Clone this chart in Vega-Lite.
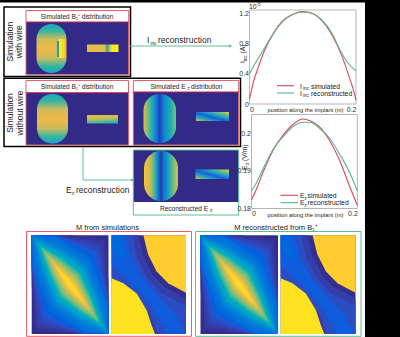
{"$schema":"https://vega.github.io/schema/vega-lite/v6.json","width":400,"height":337,"padding":0,"autosize":"none","background":"#000","config":{"view":{"stroke":null},"text":{"font":"Liberation Sans","fill":"#222","baseline":"alphabetic"},"axis":{"labelFont":"Liberation Sans"}},
"datasets":{
"M":[
{"t":0,"o":0,"u":0,"v":0},{"t":0,"o":1,"u":1,"v":0},{"t":0,"o":2,"u":1,"v":1},{"t":0,"o":3,"u":0,"v":1},
{"t":0.02,"o":0,"u":0,"v":0},{"t":0.02,"o":1,"u":0.5,"v":0},{"t":0.02,"o":2,"u":0.97,"v":0.03},{"t":0.02,"o":3,"u":1,"v":0.5},{"t":0.02,"o":4,"u":1,"v":1},{"t":0.02,"o":5,"u":0.5,"v":1},{"t":0.02,"o":6,"u":0.03,"v":0.97},{"t":0.02,"o":7,"u":0,"v":0.5},
{"t":0.04,"o":0,"u":0,"v":0},{"t":0.04,"o":1,"u":0.364,"v":0},{"t":0.04,"o":2,"u":0.94,"v":0.06},{"t":0.04,"o":3,"u":1,"v":0.636},{"t":0.04,"o":4,"u":1,"v":1},{"t":0.04,"o":5,"u":0.636,"v":1},{"t":0.04,"o":6,"u":0.06,"v":0.94},{"t":0.04,"o":7,"u":0,"v":0.364},
{"t":0.065,"o":0,"u":0,"v":0},{"t":0.065,"o":1,"u":0.343,"v":0},{"t":0.065,"o":2,"u":0.905,"v":0.095},{"t":0.065,"o":3,"u":1,"v":0.657},{"t":0.065,"o":4,"u":1,"v":1},{"t":0.065,"o":5,"u":0.657,"v":1},{"t":0.065,"o":6,"u":0.095,"v":0.905},{"t":0.065,"o":7,"u":0,"v":0.343},
{"t":0.09,"o":0,"u":0,"v":0},{"t":0.09,"o":1,"u":0.322,"v":0},{"t":0.09,"o":2,"u":0.87,"v":0.13},{"t":0.09,"o":3,"u":1,"v":0.678},{"t":0.09,"o":4,"u":1,"v":1},{"t":0.09,"o":5,"u":0.678,"v":1},{"t":0.09,"o":6,"u":0.13,"v":0.87},{"t":0.09,"o":7,"u":0,"v":0.322},
{"t":0.115,"o":0,"u":0,"v":0},{"t":0.115,"o":1,"u":0.301,"v":0},{"t":0.115,"o":2,"u":0.835,"v":0.165},{"t":0.115,"o":3,"u":1,"v":0.699},{"t":0.115,"o":4,"u":1,"v":1},{"t":0.115,"o":5,"u":0.699,"v":1},{"t":0.115,"o":6,"u":0.165,"v":0.835},{"t":0.115,"o":7,"u":0,"v":0.301},
{"t":0.14,"o":0,"u":0,"v":0},{"t":0.14,"o":1,"u":0.28,"v":0},{"t":0.14,"o":2,"u":0.8,"v":0.2},{"t":0.14,"o":3,"u":1,"v":0.72},{"t":0.14,"o":4,"u":1,"v":1},{"t":0.14,"o":5,"u":0.72,"v":1},{"t":0.14,"o":6,"u":0.2,"v":0.8},{"t":0.14,"o":7,"u":0,"v":0.28},
{"t":0.165,"o":0,"u":0,"v":0},{"t":0.165,"o":1,"u":0.303,"v":0.012},{"t":0.165,"o":2,"u":0.775,"v":0.225},{"t":0.165,"o":3,"u":0.988,"v":0.698},{"t":0.165,"o":4,"u":1,"v":1},{"t":0.165,"o":5,"u":0.698,"v":0.988},{"t":0.165,"o":6,"u":0.225,"v":0.775},{"t":0.165,"o":7,"u":0.012,"v":0.303},
{"t":0.19,"o":0,"u":0,"v":0},{"t":0.19,"o":1,"u":0.325,"v":0.025},{"t":0.19,"o":2,"u":0.75,"v":0.25},{"t":0.19,"o":3,"u":0.975,"v":0.675},{"t":0.19,"o":4,"u":1,"v":1},{"t":0.19,"o":5,"u":0.675,"v":0.975},{"t":0.19,"o":6,"u":0.25,"v":0.75},{"t":0.19,"o":7,"u":0.025,"v":0.325},
{"t":0.215,"o":0,"u":0,"v":0},{"t":0.215,"o":1,"u":0.346,"v":0.07},{"t":0.215,"o":2,"u":0.73,"v":0.27},{"t":0.215,"o":3,"u":0.93,"v":0.655},{"t":0.215,"o":4,"u":1,"v":1},{"t":0.215,"o":5,"u":0.655,"v":0.93},{"t":0.215,"o":6,"u":0.27,"v":0.73},{"t":0.215,"o":7,"u":0.07,"v":0.346},
{"t":0.24,"o":0,"u":0,"v":0},{"t":0.24,"o":1,"u":0.366,"v":0.114},{"t":0.24,"o":2,"u":0.71,"v":0.29},{"t":0.24,"o":3,"u":0.886,"v":0.634},{"t":0.24,"o":4,"u":1,"v":1},{"t":0.24,"o":5,"u":0.634,"v":0.886},{"t":0.24,"o":6,"u":0.29,"v":0.71},{"t":0.24,"o":7,"u":0.114,"v":0.366},
{"t":0.27,"o":0,"u":0.015,"v":0.015},{"t":0.27,"o":1,"u":0.371,"v":0.134},{"t":0.27,"o":2,"u":0.698,"v":0.302},{"t":0.27,"o":3,"u":0.866,"v":0.629},{"t":0.27,"o":4,"u":0.985,"v":0.985},{"t":0.27,"o":5,"u":0.629,"v":0.866},{"t":0.27,"o":6,"u":0.302,"v":0.698},{"t":0.27,"o":7,"u":0.134,"v":0.371},
{"t":0.3,"o":0,"u":0.03,"v":0.03},{"t":0.3,"o":1,"u":0.376,"v":0.154},{"t":0.3,"o":2,"u":0.685,"v":0.315},{"t":0.3,"o":3,"u":0.846,"v":0.624},{"t":0.3,"o":4,"u":0.97,"v":0.97},{"t":0.3,"o":5,"u":0.624,"v":0.846},{"t":0.3,"o":6,"u":0.315,"v":0.685},{"t":0.3,"o":7,"u":0.154,"v":0.376},
{"t":0.335,"o":0,"u":0.045,"v":0.045},{"t":0.335,"o":1,"u":0.376,"v":0.169},{"t":0.335,"o":2,"u":0.672,"v":0.328},{"t":0.335,"o":3,"u":0.831,"v":0.624},{"t":0.335,"o":4,"u":0.955,"v":0.955},{"t":0.335,"o":5,"u":0.624,"v":0.831},{"t":0.335,"o":6,"u":0.328,"v":0.672},{"t":0.335,"o":7,"u":0.169,"v":0.376},
{"t":0.37,"o":0,"u":0.06,"v":0.06},{"t":0.37,"o":1,"u":0.376,"v":0.184},{"t":0.37,"o":2,"u":0.66,"v":0.34},{"t":0.37,"o":3,"u":0.816,"v":0.624},{"t":0.37,"o":4,"u":0.94,"v":0.94},{"t":0.37,"o":5,"u":0.624,"v":0.816},{"t":0.37,"o":6,"u":0.34,"v":0.66},{"t":0.37,"o":7,"u":0.184,"v":0.376},
{"t":0.405,"o":0,"u":0.075,"v":0.075},{"t":0.405,"o":1,"u":0.376,"v":0.199},{"t":0.405,"o":2,"u":0.648,"v":0.352},{"t":0.405,"o":3,"u":0.801,"v":0.624},{"t":0.405,"o":4,"u":0.925,"v":0.925},{"t":0.405,"o":5,"u":0.624,"v":0.801},{"t":0.405,"o":6,"u":0.352,"v":0.648},{"t":0.405,"o":7,"u":0.199,"v":0.376},
{"t":0.44,"o":0,"u":0.09,"v":0.09},{"t":0.44,"o":1,"u":0.376,"v":0.214},{"t":0.44,"o":2,"u":0.635,"v":0.365},{"t":0.44,"o":3,"u":0.786,"v":0.624},{"t":0.44,"o":4,"u":0.91,"v":0.91},{"t":0.44,"o":5,"u":0.624,"v":0.786},{"t":0.44,"o":6,"u":0.365,"v":0.635},{"t":0.44,"o":7,"u":0.214,"v":0.376},
{"t":0.48,"o":0,"u":0.105,"v":0.105},{"t":0.48,"o":1,"u":0.378,"v":0.228},{"t":0.48,"o":2,"u":0.625,"v":0.375},{"t":0.48,"o":3,"u":0.772,"v":0.622},{"t":0.48,"o":4,"u":0.895,"v":0.895},{"t":0.48,"o":5,"u":0.622,"v":0.772},{"t":0.48,"o":6,"u":0.375,"v":0.625},{"t":0.48,"o":7,"u":0.228,"v":0.378},
{"t":0.52,"o":0,"u":0.12,"v":0.12},{"t":0.52,"o":1,"u":0.379,"v":0.241},{"t":0.52,"o":2,"u":0.615,"v":0.385},{"t":0.52,"o":3,"u":0.759,"v":0.621},{"t":0.52,"o":4,"u":0.88,"v":0.88},{"t":0.52,"o":5,"u":0.621,"v":0.759},{"t":0.52,"o":6,"u":0.385,"v":0.615},{"t":0.52,"o":7,"u":0.241,"v":0.379},
{"t":0.56,"o":0,"u":0.135,"v":0.135},{"t":0.56,"o":1,"u":0.38,"v":0.255},{"t":0.56,"o":2,"u":0.605,"v":0.395},{"t":0.56,"o":3,"u":0.745,"v":0.62},{"t":0.56,"o":4,"u":0.865,"v":0.865},{"t":0.56,"o":5,"u":0.62,"v":0.745},{"t":0.56,"o":6,"u":0.395,"v":0.605},{"t":0.56,"o":7,"u":0.255,"v":0.38},
{"t":0.6,"o":0,"u":0.15,"v":0.15},{"t":0.6,"o":1,"u":0.382,"v":0.268},{"t":0.6,"o":2,"u":0.595,"v":0.405},{"t":0.6,"o":3,"u":0.732,"v":0.618},{"t":0.6,"o":4,"u":0.85,"v":0.85},{"t":0.6,"o":5,"u":0.618,"v":0.732},{"t":0.6,"o":6,"u":0.405,"v":0.595},{"t":0.6,"o":7,"u":0.268,"v":0.382},
{"t":0.64,"o":0,"u":0.17,"v":0.17},{"t":0.64,"o":1,"u":0.386,"v":0.284},{"t":0.64,"o":2,"u":0.585,"v":0.415},{"t":0.64,"o":3,"u":0.716,"v":0.614},{"t":0.64,"o":4,"u":0.83,"v":0.83},{"t":0.64,"o":5,"u":0.614,"v":0.716},{"t":0.64,"o":6,"u":0.415,"v":0.585},{"t":0.64,"o":7,"u":0.284,"v":0.386},
{"t":0.68,"o":0,"u":0.19,"v":0.19},{"t":0.68,"o":1,"u":0.39,"v":0.3},{"t":0.68,"o":2,"u":0.575,"v":0.425},{"t":0.68,"o":3,"u":0.7,"v":0.61},{"t":0.68,"o":4,"u":0.81,"v":0.81},{"t":0.68,"o":5,"u":0.61,"v":0.7},{"t":0.68,"o":6,"u":0.425,"v":0.575},{"t":0.68,"o":7,"u":0.3,"v":0.39},
{"t":0.72,"o":0,"u":0.21,"v":0.21},{"t":0.72,"o":1,"u":0.394,"v":0.316},{"t":0.72,"o":2,"u":0.565,"v":0.435},{"t":0.72,"o":3,"u":0.684,"v":0.606},{"t":0.72,"o":4,"u":0.79,"v":0.79},{"t":0.72,"o":5,"u":0.606,"v":0.684},{"t":0.72,"o":6,"u":0.435,"v":0.565},{"t":0.72,"o":7,"u":0.316,"v":0.394},
{"t":0.76,"o":0,"u":0.23,"v":0.23},{"t":0.76,"o":1,"u":0.398,"v":0.332},{"t":0.76,"o":2,"u":0.555,"v":0.445},{"t":0.76,"o":3,"u":0.668,"v":0.602},{"t":0.76,"o":4,"u":0.77,"v":0.77},{"t":0.76,"o":5,"u":0.602,"v":0.668},{"t":0.76,"o":6,"u":0.445,"v":0.555},{"t":0.76,"o":7,"u":0.332,"v":0.398},
{"t":0.8,"o":0,"u":0.25,"v":0.25},{"t":0.8,"o":1,"u":0.402,"v":0.348},{"t":0.8,"o":2,"u":0.545,"v":0.455},{"t":0.8,"o":3,"u":0.652,"v":0.598},{"t":0.8,"o":4,"u":0.75,"v":0.75},{"t":0.8,"o":5,"u":0.598,"v":0.652},{"t":0.8,"o":6,"u":0.455,"v":0.545},{"t":0.8,"o":7,"u":0.348,"v":0.402},
{"t":0.84,"o":0,"u":0.27,"v":0.27},{"t":0.84,"o":1,"u":0.406,"v":0.364},{"t":0.84,"o":2,"u":0.535,"v":0.465},{"t":0.84,"o":3,"u":0.636,"v":0.594},{"t":0.84,"o":4,"u":0.73,"v":0.73},{"t":0.84,"o":5,"u":0.594,"v":0.636},{"t":0.84,"o":6,"u":0.465,"v":0.535},{"t":0.84,"o":7,"u":0.364,"v":0.406},
{"t":0.88,"o":0,"u":0.3,"v":0.3},{"t":0.88,"o":1,"u":0.416,"v":0.384},{"t":0.88,"o":2,"u":0.527,"v":0.473},{"t":0.88,"o":3,"u":0.616,"v":0.584},{"t":0.88,"o":4,"u":0.7,"v":0.7},{"t":0.88,"o":5,"u":0.584,"v":0.616},{"t":0.88,"o":6,"u":0.473,"v":0.527},{"t":0.88,"o":7,"u":0.384,"v":0.416},
{"t":0.92,"o":0,"u":0.33,"v":0.33},{"t":0.92,"o":1,"u":0.426,"v":0.404},{"t":0.92,"o":2,"u":0.518,"v":0.482},{"t":0.92,"o":3,"u":0.596,"v":0.574},{"t":0.92,"o":4,"u":0.67,"v":0.67},{"t":0.92,"o":5,"u":0.574,"v":0.596},{"t":0.92,"o":6,"u":0.482,"v":0.518},{"t":0.92,"o":7,"u":0.404,"v":0.426}
],
"P":[
{"t":0.01,"o":0,"u":0,"v":0},{"t":0.01,"o":1,"u":1,"v":0},{"t":0.01,"o":2,"u":1,"v":1},{"t":0.01,"o":3,"u":0,"v":1},
{"t":0.05,"o":0,"u":0,"v":0},{"t":0.05,"o":1,"u":0.36,"v":0},{"t":0.05,"o":2,"u":0.42,"v":0.2},{"t":0.05,"o":3,"u":0.55,"v":0.4},{"t":0.05,"o":4,"u":0.72,"v":0.53},{"t":0.05,"o":5,"u":1,"v":0.64},{"t":0.05,"o":6,"u":1,"v":1},{"t":0.05,"o":7,"u":0.53,"v":1},{"t":0.05,"o":8,"u":0.47,"v":0.82},{"t":0.05,"o":9,"u":0.3,"v":0.62},{"t":0.05,"o":10,"u":0.12,"v":0.52},{"t":0.05,"o":11,"u":0,"v":0.47},
{"t":0.09,"o":0,"u":0,"v":0},{"t":0.09,"o":1,"u":0.28,"v":0},{"t":0.09,"o":2,"u":0.34,"v":0.22},{"t":0.09,"o":3,"u":0.47,"v":0.42},{"t":0.09,"o":4,"u":0.66,"v":0.58},{"t":0.09,"o":5,"u":1,"v":0.72},{"t":0.09,"o":6,"u":1,"v":1},{"t":0.09,"o":7,"u":0.62,"v":1},{"t":0.09,"o":8,"u":0.52,"v":0.8},{"t":0.09,"o":9,"u":0.34,"v":0.62},{"t":0.09,"o":10,"u":0.14,"v":0.5},{"t":0.09,"o":11,"u":0,"v":0.42},
{"t":0.125,"o":0,"u":0,"v":0},{"t":0.125,"o":1,"u":0.18,"v":0},{"t":0.125,"o":2,"u":0.26,"v":0.22},{"t":0.125,"o":3,"u":0.42,"v":0.44},{"t":0.125,"o":4,"u":0.6,"v":0.6},{"t":0.125,"o":5,"u":0.85,"v":0.8},{"t":0.125,"o":6,"u":1,"v":1},{"t":0.125,"o":7,"u":0.75,"v":1},{"t":0.125,"o":8,"u":0.56,"v":0.74},{"t":0.125,"o":9,"u":0.38,"v":0.58},{"t":0.125,"o":10,"u":0.16,"v":0.42},{"t":0.125,"o":11,"u":0,"v":0.3},
{"t":0.16,"o":0,"u":0,"v":0},{"t":0.16,"o":1,"u":0.1,"v":0},{"t":0.16,"o":2,"u":0.2,"v":0.2},{"t":0.16,"o":3,"u":0.12,"v":0.26},{"t":0.16,"o":4,"u":0,"v":0.15},
{"t":0.89,"o":0,"u":0.426,"v":0},{"t":0.89,"o":1,"u":0.49,"v":0.195},{"t":0.89,"o":2,"u":0.605,"v":0.366},{"t":0.89,"o":3,"u":0.76,"v":0.486},{"t":0.89,"o":4,"u":1,"v":0.582},{"t":0.89,"o":5,"u":1,"v":0},
{"t":0.94,"o":0,"u":0,"v":0.435},{"t":0.94,"o":1,"u":0.157,"v":0.486},{"t":0.94,"o":2,"u":0.336,"v":0.589},{"t":0.94,"o":3,"u":0.471,"v":0.76},{"t":0.94,"o":4,"u":0.538,"v":0.914},{"t":0.94,"o":5,"u":0.583,"v":1},{"t":0.94,"o":6,"u":0,"v":1}
],
"curves":[
{"s":"sim","m":0,"top":0.062},{"s":"sim","m":0.0075,"top":0.298},{"s":"sim","m":0.017,"top":0.498},{"s":"sim","m":0.026,"top":0.676},{"s":"sim","m":0.045,"top":0.942},{"s":"sim","m":0.064,"top":1.12},{"s":"sim","m":0.083,"top":1.2},{"s":"sim","m":0.1,"top":1.231},{"s":"sim","m":0.117,"top":1.209},{"s":"sim","m":0.136,"top":1.111},{"s":"sim","m":0.155,"top":0.92},{"s":"sim","m":0.174,"top":0.631},{"s":"sim","m":0.186,"top":0.387},{"s":"sim","m":0.196,"top":0.164},{"s":"sim","m":0.2,"top":0.053},
{"s":"rec","m":0,"top":0.4},{"s":"rec","m":0.0107,"top":0.542},{"s":"rec","m":0.026,"top":0.72},{"s":"rec","m":0.045,"top":0.942},{"s":"rec","m":0.064,"top":1.111},{"s":"rec","m":0.083,"top":1.2},{"s":"rec","m":0.1,"top":1.227},{"s":"rec","m":0.117,"top":1.209},{"s":"rec","m":0.136,"top":1.12},{"s":"rec","m":0.155,"top":0.942},{"s":"rec","m":0.17,"top":0.72},{"s":"rec","m":0.183,"top":0.564},{"s":"rec","m":0.2,"top":0.44}
],
"curves2":[
{"s":"sim","m":0,"e":0.18234},{"s":"sim","m":0.0101,"e":0.18545},{"s":"sim","m":0.0226,"e":0.1899},{"s":"sim","m":0.0415,"e":0.19564},{"s":"sim","m":0.0604,"e":0.19963},{"s":"sim","m":0.0792,"e":0.20247},{"s":"sim","m":0.0969,"e":0.2038},{"s":"sim","m":0.1107,"e":0.20335},{"s":"sim","m":0.1296,"e":0.2016},{"s":"sim","m":0.1484,"e":0.19787},{"s":"sim","m":0.1673,"e":0.19255},{"s":"sim","m":0.183,"e":0.18678},{"s":"sim","m":0.2,"e":0.18085},
{"s":"rec","m":0,"e":0.18457},{"s":"rec","m":0.0101,"e":0.18705},{"s":"rec","m":0.0226,"e":0.19077},{"s":"rec","m":0.0415,"e":0.1959},{"s":"rec","m":0.0604,"e":0.1992},{"s":"rec","m":0.0792,"e":0.20186},{"s":"rec","m":0.0969,"e":0.20293},{"s":"rec","m":0.1107,"e":0.20293},{"s":"rec","m":0.1296,"e":0.20122},{"s":"rec","m":0.1484,"e":0.19856},{"s":"rec","m":0.1673,"e":0.1943},{"s":"rec","m":0.183,"e":0.19032},{"s":"rec","m":0.2,"e":0.18473}
]
},
"encoding":{"x":{"field":"x","type":"quantitative","scale":{"domain":[0,400],"range":[0,400]},"axis":null},"y":{"field":"y","type":"quantitative","scale":{"domain":[0,337],"range":[0,337]},"axis":null}},
"resolve":{"scale":{"x":"independent","y":"independent","color":"independent"},"axis":{"x":"independent","y":"independent"}},
"layer":[
{"data":{"values":[{"x":0,"y":2.5,"x2":365,"y2":337}]},"mark":{"type":"rect","fill":"#fff"},"encoding":{"x2":{"field":"x2"},"y2":{"field":"y2"}}},
{"data":{"values":[{"x":26,"y":22,"x2":128.7,"y2":74.5},{"x":26,"y":93,"x2":128.5,"y2":145},{"x":133.3,"y":92,"x2":238.7,"y2":145},{"x":133.3,"y":150,"x2":238.7,"y2":202}]},"mark":{"type":"rect","fill":"#322a86"},"encoding":{"x2":{"field":"x2"},"y2":{"field":"y2"}}},
{"data":{"values":[{"x":36.5,"y":24,"x2":66.5,"y2":73},{"x":37,"y":94,"x2":68,"y2":143.5}]},"mark":{"type":"rect","cornerRadius":15,"fill":{"x1":0,"y1":0,"x2":0,"y2":1,"gradient":"linear","stops":[{"offset":0,"color":"#1aa4c0"},{"offset":0.14,"color":"#35b5a0"},{"offset":0.3,"color":"#c6bb5e"},{"offset":0.42,"color":"#e6b94a"},{"offset":0.58,"color":"#e6b94a"},{"offset":0.7,"color":"#c6bb5e"},{"offset":0.86,"color":"#35b5a0"},{"offset":1,"color":"#1aa4c0"}]}},"encoding":{"x2":{"field":"x2"},"y2":{"field":"y2"}}},
{"data":{"values":[{"x":57,"y":41,"x2":59,"y2":57}]},"mark":{"type":"rect","fill":"#1a9fc0"},"encoding":{"x2":{"field":"x2"},"y2":{"field":"y2"}}},
{"data":{"values":[{"x":59,"y":39,"x2":65.5,"y2":58}]},"mark":{"type":"rect","fill":{"x1":0,"y1":0,"x2":1,"y2":0,"gradient":"linear","stops":[{"offset":0,"color":"#f9f520"},{"offset":0.6,"color":"#fbdc25"},{"offset":1,"color":"#eec038"}]}},"encoding":{"x2":{"field":"x2"},"y2":{"field":"y2"}}},
{"data":{"values":[{"x":87,"y":44.5,"x2":118.5,"y2":52}]},"mark":{"type":"rect","fill":{"x1":0,"y1":0,"x2":1,"y2":0,"gradient":"linear","stops":[{"offset":0,"color":"#e5bc45"},{"offset":0.55,"color":"#e3c04a"},{"offset":0.66,"color":"#2a9fb8"},{"offset":0.72,"color":"#d0c050"},{"offset":0.8,"color":"#f8ea20"},{"offset":1,"color":"#f9f020"}]}},"encoding":{"x2":{"field":"x2"},"y2":{"field":"y2"}}},
{"data":{"values":[{"x":87,"y":115,"x2":118,"y2":123.5}]},"mark":{"type":"rect","fill":{"x1":0,"y1":0,"x2":0.2,"y2":1,"gradient":"linear","stops":[{"offset":0,"color":"#e4bb48"},{"offset":0.45,"color":"#d0bc55"},{"offset":0.75,"color":"#70be88"},{"offset":1,"color":"#2db3a4"}]}},"encoding":{"x2":{"field":"x2"},"y2":{"field":"y2"}}},
{"data":{"values":[{"x":143.5,"y":94,"x2":176,"y2":143}]},"mark":{"type":"rect","cornerRadius":16,"fill":{"x1":0,"y1":0,"x2":1,"y2":0,"gradient":"linear","stops":[{"offset":0,"color":"#e8ba45"},{"offset":0.12,"color":"#7cbf7c"},{"offset":0.25,"color":"#22b0b4"},{"offset":0.38,"color":"#1480d6"},{"offset":0.46,"color":"#1a58d0"},{"offset":0.5,"color":"#2c3a9c"},{"offset":0.54,"color":"#1a58d0"},{"offset":0.66,"color":"#1090d0"},{"offset":0.85,"color":"#20b0b0"},{"offset":1,"color":"#80bf78"}]}},"encoding":{"x2":{"field":"x2"},"y2":{"field":"y2"}}},
{"data":{"values":[{"x":144,"y":151,"x2":178,"y2":201}]},"mark":{"type":"rect","cornerRadius":17,"fill":{"x1":0,"y1":0,"x2":1,"y2":0,"gradient":"linear","stops":[{"offset":0,"color":"#f5c82e"},{"offset":0.2,"color":"#c0bb5e"},{"offset":0.33,"color":"#2ab3a8"},{"offset":0.43,"color":"#1270d8"},{"offset":0.5,"color":"#2c3a9c"},{"offset":0.57,"color":"#1270d8"},{"offset":0.72,"color":"#17a5c0"},{"offset":0.9,"color":"#8cc070"},{"offset":1,"color":"#e8c040"}]}},"encoding":{"x2":{"field":"x2"},"y2":{"field":"y2"}}},
{"data":{"values":[{"x":196,"y":112,"x2":229,"y2":121},{"x":195.5,"y":169.5,"x2":229,"y2":179}]},"mark":{"type":"rect","fill":{"x1":0,"y1":1,"x2":1,"y2":0,"gradient":"linear","stops":[{"offset":0,"color":"#d8bb50"},{"offset":0.25,"color":"#20a5c0"},{"offset":0.45,"color":"#1860d8"},{"offset":0.62,"color":"#1ba0c8"},{"offset":0.78,"color":"#60bc8c"},{"offset":1,"color":"#f0d030"}]}},"encoding":{"x2":{"field":"x2"},"y2":{"field":"y2"}}},
{"data":{"values":[{"x":26,"y":10.5,"x2":128.7,"y2":75},{"x":26,"y":80.5,"x2":128.5,"y2":145},{"x":133.3,"y":80.5,"x2":238.7,"y2":145},{"x":26.5,"y":231.5,"x2":191.5,"y2":336.3}]},"mark":{"type":"rect","filled":false,"stroke":"#e8606a","strokeWidth":1},"encoding":{"x2":{"field":"x2"},"y2":{"field":"y2"}}},
{"data":{"values":[{"x":133.3,"y":150,"x2":238.7,"y2":215},{"x":195.5,"y":231.5,"x2":361,"y2":336.3}]},"mark":{"type":"rect","filled":false,"stroke":"#5cbf95","strokeWidth":1},"encoding":{"x2":{"field":"x2"},"y2":{"field":"y2"}}},
{"data":{"values":[{"x":4,"y":7,"x2":130.5,"y2":76.5},{"x":4,"y":78.3,"x2":240.5,"y2":146.5}]},"mark":{"type":"rect","filled":false,"stroke":"#000","strokeWidth":1.5},"encoding":{"x2":{"field":"x2"},"y2":{"field":"y2"}}},
{"data":{"values":[{"x":26,"x2":128.7,"y":22},{"x":26,"x2":128.5,"y":92.7},{"x":133.3,"x2":238.7,"y":92}]},"mark":{"type":"rule","stroke":"#c4203c","strokeWidth":1},"encoding":{"x2":{"field":"x2"}}},
{"data":{"values":[{"p":"a","o":0,"x":130,"y":46},{"p":"a","o":1,"x":230,"y":46},{"p":"b","o":0,"x":83,"y":147},{"p":"b","o":1,"x":83,"y":180},{"p":"b","o":2,"x":132,"y":180}]},"mark":{"type":"line","stroke":"#5cbf95","strokeWidth":1},"encoding":{"detail":{"field":"p"},"order":{"field":"o"}}},
{"data":{"values":[{"x":230.5,"y":46},{"x":132.5,"y":180}]},"mark":{"type":"point","shape":"triangle-right","filled":true,"fill":"#5cbf95","size":12,"opacity":1}},

{"data":{"name":"M"},"mark":{"type":"line","filled":true},"encoding":{"x":{"field":"u","type":"quantitative","scale":{"domain":[0,1],"range":[31.7,108.5]},"axis":null},"y":{"field":"v","type":"quantitative","scale":{"domain":[0,1],"range":[235.3,334]},"axis":null},"detail":{"field":"t"},"order":{"field":"o"},"color":{"field":"t","type":"quantitative","legend":null,"scale":{"domain":[0,0.125,0.25,0.375,0.5,0.625,0.75,0.875,1],"range":["#352a87","#0f5cdd","#1481d6","#06a4ca","#2eb7a4","#87bf77","#d1bb59","#fec832","#f9fb0e"]}}}},
{"data":{"name":"M"},"mark":{"type":"line","filled":true},"encoding":{"x":{"field":"u","type":"quantitative","scale":{"domain":[0,1],"range":[200.5,278]},"axis":null},"y":{"field":"v","type":"quantitative","scale":{"domain":[0,1],"range":[235.3,334]},"axis":null},"detail":{"field":"t"},"order":{"field":"o"},"color":{"field":"t","type":"quantitative","legend":null,"scale":{"domain":[0,0.125,0.25,0.375,0.5,0.625,0.75,0.875,1],"range":["#352a87","#0f5cdd","#1481d6","#06a4ca","#2eb7a4","#87bf77","#d1bb59","#fec832","#f9fb0e"]}}}},
{"data":{"name":"P"},"mark":{"type":"line","filled":true},"encoding":{"x":{"field":"u","type":"quantitative","scale":{"domain":[0,1],"range":[111.7,186]},"axis":null},"y":{"field":"v","type":"quantitative","scale":{"domain":[0,1],"range":[235.3,334]},"axis":null},"detail":{"field":"t"},"order":{"field":"o"},"color":{"field":"t","type":"quantitative","legend":null,"scale":{"domain":[0,0.125,0.25,0.375,0.5,0.625,0.75,0.875,1],"range":["#352a87","#0f5cdd","#1481d6","#06a4ca","#2eb7a4","#87bf77","#d1bb59","#fec832","#f9fb0e"]}}}},
{"data":{"name":"P"},"mark":{"type":"line","filled":true},"encoding":{"x":{"field":"u","type":"quantitative","scale":{"domain":[0,1],"range":[280.7,355.5]},"axis":null},"y":{"field":"v","type":"quantitative","scale":{"domain":[0,1],"range":[235.3,334]},"axis":null},"detail":{"field":"t"},"order":{"field":"o"},"color":{"field":"t","type":"quantitative","legend":null,"scale":{"domain":[0,0.125,0.25,0.375,0.5,0.625,0.75,0.875,1],"range":["#352a87","#0f5cdd","#1481d6","#06a4ca","#2eb7a4","#87bf77","#d1bb59","#fec832","#f9fb0e"]}}}},

{"data":{"values":[{"x":249.5,"y":10,"x2":356,"y2":104},{"x":251.5,"y":114.5,"x2":357.3,"y2":208.5}]},"mark":{"type":"rect","filled":false,"stroke":"#b5b5b5","strokeWidth":1},"encoding":{"x2":{"field":"x2"},"y2":{"field":"y2"}}},
{"data":{"name":"curves"},"mark":{"type":"line","strokeWidth":1.1,"interpolate":"monotone"},"encoding":{"x":{"field":"m","type":"quantitative","scale":{"domain":[0,0.2],"range":[249.5,356]},"axis":{"orient":"bottom","zindex":1,"offset":-233,"values":[0,0.2],"labelExpr":"datum.value == 0 ? '0' : '0.2'","labelFontSize":7,"labelColor":"#333","domain":false,"ticks":false,"grid":false,"title":null,"labelPadding":1}},"y":{"field":"top","type":"quantitative","scale":{"domain":[0,1.2533],"range":[104,10]},"axis":{"orient":"left","zindex":1,"offset":-249.5,"values":[0,0.4,0.8,1.2],"format":"~r","labelFontSize":7,"labelColor":"#333","domain":false,"ticks":false,"grid":false,"title":null,"labelPadding":1}},"color":{"field":"s","type":"nominal","legend":null,"scale":{"domain":["sim","rec"],"range":["#e0455a","#55b88c"]}}}},
{"data":{"name":"curves2"},"mark":{"type":"line","strokeWidth":1.1,"interpolate":"monotone"},"encoding":{"x":{"field":"m","type":"quantitative","scale":{"domain":[0,0.2],"range":[251.5,357.3]},"axis":{"orient":"bottom","zindex":1,"offset":-128.5,"values":[0,0.2],"labelExpr":"datum.value == 0 ? '0' : '0.2'","labelFontSize":7,"labelColor":"#333","domain":false,"ticks":false,"grid":false,"title":null,"labelPadding":1}},"y":{"field":"e","type":"quantitative","scale":{"domain":[0.18,0.205],"range":[208.5,114.5]},"axis":{"orient":"left","zindex":1,"offset":-251.5,"values":[0.18,0.19,0.2],"format":"~r","labelFontSize":7,"labelColor":"#333","domain":false,"ticks":false,"grid":false,"title":null,"labelPadding":1}},"color":{"field":"s","type":"nominal","legend":null,"scale":{"domain":["sim","rec"],"range":["#e0455a","#55b88c"]}}}},
{"data":{"values":[{"p":"a","x":277,"y":85.7},{"p":"a","x":294,"y":85.7},{"p":"b","x":280.5,"y":195.3},{"p":"b","x":298,"y":195.3}]},"mark":{"type":"line","stroke":"#e0455a","strokeWidth":1.1},"encoding":{"detail":{"field":"p"}}},
{"data":{"values":[{"p":"a","x":277,"y":93},{"p":"a","x":294,"y":93},{"p":"b","x":280.5,"y":202.7},{"p":"b","x":298,"y":202.7}]},"mark":{"type":"line","stroke":"#55b88c","strokeWidth":1.1},"encoding":{"detail":{"field":"p"}}},

{"data":{"values":[{"x":147,"y":43,"t":"I"},{"x":158,"y":43,"t":"reconstruction"},{"x":66,"y":193,"t":"E"},{"x":76,"y":193,"t":"reconstruction"}]},"mark":{"type":"text","align":"left","fontSize":8.5},"encoding":{"text":{"field":"t"}}},
{"data":{"values":[{"x":150.5,"y":45,"t":"inc"},{"x":72,"y":195,"t":"z"},{"x":187.5,"y":89.5,"t":"z"},{"x":210,"y":212,"t":"z"},{"x":303,"y":89.5,"t":"inc"},{"x":303,"y":97,"t":"inc"},{"x":304.5,"y":199.5,"t":"z"},{"x":304.5,"y":206.5,"t":"z"}]},"mark":{"type":"text","align":"left","fontSize":4.5},"encoding":{"text":{"field":"t"}}},
{"data":{"values":[{"x":10,"y":41.7,"t":"Simulation"},{"x":19,"y":41.7,"t":"with wire"},{"x":10,"y":113,"t":"Simulation"},{"x":19.5,"y":113,"t":"without wire"}]},"mark":{"type":"text","align":"center","baseline":"middle","angle":270,"fontSize":8.5},"encoding":{"text":{"field":"t"}}},
{"data":{"values":[{"x":77,"y":19,"t":"Simulated B₁⁺ distribution"},{"x":77,"y":89,"t":"Simulated B₁⁺ distribution"}]},"mark":{"type":"text","align":"center","fontSize":6.5},"encoding":{"text":{"field":"t"}}},
{"data":{"values":[{"x":150.5,"y":89,"t":"Simulated E"},{"x":191,"y":89,"t":"distribution"},{"x":160,"y":211,"t":"Reconstructed E"}]},"mark":{"type":"text","align":"left","fontSize":6.5},"encoding":{"text":{"field":"t"}}},
{"data":{"values":[{"x":107.5,"y":229.5,"t":"M from simulations"},{"x":276,"y":229.5,"t":"M reconstructed from B₁⁺"}]},"mark":{"type":"text","align":"center","fontSize":7.5},"encoding":{"text":{"field":"t"}}},
{"data":{"values":[{"x":305.5,"y":111.5,"t":"position along the implant (m)"},{"x":305.5,"y":216.5,"t":"position along the implant (m)"}]},"mark":{"type":"text","align":"center","fontSize":5.8},"encoding":{"text":{"field":"t"}}},
{"data":{"values":[{"x":311,"y":88.5,"t":"simulated"},{"x":311,"y":96,"t":"reconstructed"},{"x":300,"y":88.5,"t":"I"},{"x":300,"y":96,"t":"I"},{"x":300,"y":198,"t":"E"},{"x":300,"y":205,"t":"E"},{"x":307.5,"y":198,"t":"simulated"},{"x":307.5,"y":205,"t":"reconstructed"},{"x":249,"y":8.5,"t":"10"}]},"mark":{"type":"text","align":"left","fontSize":6.8},"encoding":{"text":{"field":"t"}}},
{"data":{"values":[{"x":256.5,"y":6,"t":"-5"}]},"mark":{"type":"text","align":"left","fontSize":4.5},"encoding":{"text":{"field":"t"}}},
{"data":{"values":[{"x":245,"y":63,"t":"I"},{"x":245,"y":53.5,"t":"(A)"},{"x":247,"y":170,"t":"E"},{"x":247,"y":161,"t":"(V/m)"}]},"mark":{"type":"text","align":"left","angle":270,"fontSize":6.8},"encoding":{"text":{"field":"t"}}},
{"data":{"values":[{"x":247,"y":61,"t":"inc"},{"x":249,"y":165,"t":"z"}]},"mark":{"type":"text","align":"left","angle":270,"fontSize":4.5},"encoding":{"text":{"field":"t"}}}
]}
